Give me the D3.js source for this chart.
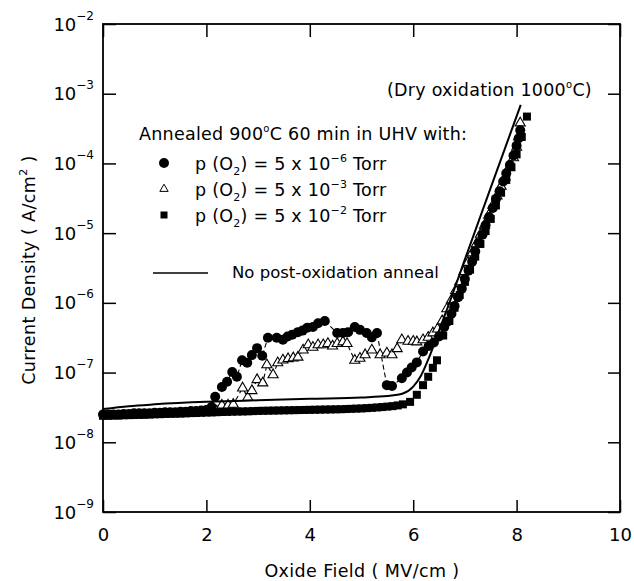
<!DOCTYPE html>
<html><head><meta charset="utf-8">
<script src="https://cdn.jsdelivr.net/npm/d3@7"></script>
<style>
body{margin:0;background:#fff}
svg{display:block}
text{font-family:"DejaVu Sans",Verdana,sans-serif;fill:#000}
</style>
</head><body>
<svg id="chart" width="634" height="581"></svg>
<script>
// ---------- data ----------
const xTicks = [0, 2, 4, 6, 8, 10];
const yTickExps = [-9, -8, -7, -6, -5, -4, -3, -2];

// p(O2) = 5e-6 Torr (filled circles)
const circE = [0.0,0.1,0.2,0.3,0.4,0.5,0.6,0.7,0.8,0.9,1.0,1.1,1.2,1.3,1.4,1.5,1.6,1.7,1.8,1.9,2.0,
  2.1,2.17,2.3,2.4,2.5,2.59,2.69,2.79,2.88,2.98,3.08,3.19,3.36,3.48,3.57,3.66,3.77,3.86,3.95,4.06,4.16,4.29,
  4.53,4.64,4.74,4.87,4.97,5.1,5.2,5.3,5.49,5.59,5.78,5.88,5.97,6.07,6.19,6.3,6.4,6.5,6.6,6.67,6.74,6.8,6.87,6.94,
  7.0,7.07,7.14,7.2,7.27,7.34,7.4,7.47,7.54,7.6,7.67,7.74,7.8,7.87,7.94,8.0,8.04,8.07];
const circJ = [2.5e-8,2.5e-8,2.5e-8,2.5e-8,2.55e-8,2.55e-8,2.6e-8,2.6e-8,2.6e-8,2.6e-8,2.65e-8,2.65e-8,2.7e-8,2.7e-8,2.7e-8,2.75e-8,2.75e-8,2.8e-8,2.8e-8,2.85e-8,2.9e-8,
  3.2e-8,4.5e-8,6.2e-8,7.4e-8,1.02e-7,8.7e-8,1.5e-7,1.38e-7,1.78e-7,2.24e-7,1.74e-7,3.16e-7,3.16e-7,2.95e-7,3.3e-7,3.5e-7,3.8e-7,4.0e-7,4.4e-7,4.5e-7,5.1e-7,5.5e-7,
  3.7e-7,3.7e-7,3.8e-7,4.5e-7,4.1e-7,3.7e-7,3.2e-7,3.7e-7,6.6e-8,6.4e-8,8.3e-8,1.0e-7,1.18e-7,1.4e-7,2.0e-7,2.4e-7,2.7e-7,3.3e-7,4.5e-7,5.4e-7,7.0e-7,9.0e-7,1.2e-6,1.6e-6,
  2.2e-6,2.9e-6,3.9e-6,5.5e-6,7.2e-6,9.5e-6,1.3e-5,1.7e-5,2.3e-5,3.1e-5,4.0e-5,5.5e-5,7.2e-5,9.5e-5,1.3e-4,1.8e-4,2.3e-4,3.0e-4];

// p(O2) = 5e-3 Torr (open triangles)
const triE = [2.2,2.3,2.42,2.52,2.7,2.8,2.88,2.98,3.09,3.17,3.29,3.38,3.48,3.58,3.68,3.77,3.87,3.97,4.06,4.16,4.26,4.35,4.44,4.53,4.64,4.72,
  4.87,4.97,5.07,5.2,5.36,5.49,5.59,5.69,5.78,5.9,6.0,6.07,6.19,6.29,6.38,6.47,6.56,6.65,6.74,6.82,6.9,6.98,
  7.06,7.14,7.22,7.3,7.38,7.46,7.54,7.62,7.7,7.78,7.86,7.94,8.0,8.04,8.07];
const triJ = [2.8e-8,3.4e-8,3.4e-8,3.5e-8,6.0e-8,4.4e-8,5.5e-8,7.9e-8,7.1e-8,1.29e-7,9.3e-8,1.38e-7,1.51e-7,1.58e-7,1.62e-7,1.66e-7,2.1e-7,2.5e-7,2.3e-7,2.5e-7,2.5e-7,2.6e-7,2.4e-7,2.6e-7,2.75e-7,2.6e-7,
  1.5e-7,1.6e-7,1.8e-7,2.1e-7,1.8e-7,1.9e-7,1.8e-7,2.2e-7,2.95e-7,2.8e-7,2.8e-7,2.75e-7,2.95e-7,3.2e-7,3.7e-7,4.2e-7,5.5e-7,8.2e-7,1.1e-6,1.5e-6,2.0e-6,2.8e-6,
  3.8e-6,5.2e-6,7.0e-6,9.6e-6,1.3e-5,1.8e-5,2.5e-5,3.4e-5,4.7e-5,6.4e-5,8.8e-5,1.2e-4,1.7e-4,2.4e-4,3.8e-4];

// p(O2) = 5e-2 Torr (filled squares)
const sqE = [0.0,0.1,0.2,0.3,0.4,0.5,0.6,0.7,0.8,0.9,1.0,1.1,1.2,1.3,1.4,1.5,1.6,1.7,1.8,1.9,2.0,2.1,2.2,2.3,2.4,2.5,2.6,2.7,2.8,2.9,
  3.0,3.1,3.2,3.3,3.4,3.5,3.6,3.7,3.8,3.9,4.0,4.1,4.2,4.3,4.4,4.5,4.6,4.7,4.8,4.9,5.0,5.1,5.2,5.3,5.4,5.5,5.6,5.7,5.8,
  5.94,6.07,6.19,6.29,6.38,6.46,6.58,6.7,6.8,6.9,7.0,7.1,7.2,7.3,7.4,7.5,7.6,7.7,7.8,7.9,8.0,8.1,8.2];
const sqJ = [2.40e-8,2.40e-8,2.42e-8,2.42e-8,2.44e-8,2.45e-8,2.46e-8,2.47e-8,2.48e-8,2.50e-8,2.52e-8,2.53e-8,2.55e-8,2.56e-8,2.57e-8,2.58e-8,2.60e-8,2.62e-8,2.63e-8,2.65e-8,2.67e-8,2.68e-8,2.70e-8,2.72e-8,2.73e-8,2.75e-8,2.76e-8,2.77e-8,2.78e-8,2.80e-8,
  2.82e-8,2.83e-8,2.84e-8,2.85e-8,2.86e-8,2.87e-8,2.88e-8,2.89e-8,2.90e-8,2.91e-8,2.92e-8,2.93e-8,2.94e-8,2.95e-8,2.96e-8,2.97e-8,2.98e-8,3.00e-8,3.02e-8,3.04e-8,3.06e-8,3.09e-8,3.12e-8,3.16e-8,3.20e-8,3.25e-8,3.30e-8,3.38e-8,3.50e-8,
  3.8e-8,4.8e-8,6.6e-8,8.7e-8,1.17e-7,1.5e-7,3.4e-7,5.5e-7,8.5e-7,1.3e-6,2.0e-6,3.0e-6,4.6e-6,7.0e-6,1.07e-5,1.6e-5,2.5e-5,3.8e-5,5.8e-5,8.8e-5,1.35e-4,2.4e-4,4.7e-4];

// No post-oxidation anneal (solid line)
const lineE = [0.0,0.5,1.0,2.0,3.0,4.0,5.0,5.5,5.8,6.0,6.15,6.3,6.5,6.7,7.0,7.5,8.08];
const lineJ = [3.0e-8,3.3e-8,3.5e-8,3.8e-8,4.0e-8,4.2e-8,4.4e-8,4.6e-8,5.0e-8,6.3e-8,9.0e-8,1.6e-7,4.0e-7,1.0e-6,4.2e-6,4.5e-5,6.9e-4];

// ---------- chart ----------
const svg = d3.select("#chart");
const x = d3.scaleLinear().domain([0, 10]).range([103, 620]);
const y = d3.scaleLog().domain([1e-9, 1e-2]).range([512, 24]);

const zip = (a, b) => a.map((v, i) => [v, b[i]]);
const circ = zip(circE, circJ), tri = zip(triE, triJ), sq = zip(sqE, sqJ), ln = zip(lineE, lineJ);

// axes (ticks inward)
const gx = svg.append("g").attr("transform", "translate(0,512)")
  .call(d3.axisBottom(x).tickValues(xTicks).tickSizeInner(-12).tickSizeOuter(0).tickPadding(16).tickFormat(d3.format("d")));
const gxt = svg.append("g").attr("transform", "translate(0,24)")
  .call(d3.axisTop(x).tickValues(xTicks).tickSizeInner(-13).tickSizeOuter(0).tickFormat(""));
const yVals = yTickExps.map(e => Math.pow(10, e));
const gy = svg.append("g").attr("transform", "translate(103,0)")
  .call(d3.axisLeft(y).tickValues(yVals).tickSizeInner(-13).tickSizeOuter(0).tickFormat(""));
const gyr = svg.append("g").attr("transform", "translate(620,0)")
  .call(d3.axisRight(y).tickValues(yVals).tickSizeInner(-12).tickSizeOuter(0).tickFormat(""));
[gx, gxt, gy, gyr].forEach(g => {
  g.select(".domain").remove();
  g.selectAll(".tick line").attr("stroke", "#000").attr("stroke-width", 1.5);
});
gx.selectAll(".tick text").attr("font-size", 18).attr("font-family", "DejaVu Sans, Verdana, sans-serif").attr("fill", "#000");

// frame
svg.append("rect").attr("x", x(0)).attr("y", y(1e-2)).attr("width", x(10) - x(0)).attr("height", y(1e-9) - y(1e-2))
  .attr("fill", "none").attr("stroke", "#000").attr("stroke-width", 1.8);

// y tick labels 10^n
yTickExps.forEach(e => {
  const t = svg.append("text").attr("x", 94).attr("y", y(Math.pow(10, e)) + 6.5).attr("text-anchor", "end").attr("font-size", 18);
  t.append("tspan").text("10");
  t.append("tspan").attr("dy", -11).attr("font-size", 12).text("\u2212" + Math.abs(e));
});

// axis titles
svg.append("text").attr("x", 362).attr("y", 577).attr("text-anchor", "middle").attr("font-size", 17.5).attr("letter-spacing", 0.4)
  .text("Oxide Field  ( MV/cm )");
const yt = svg.append("text").attr("transform", "translate(35,270) rotate(-90)").attr("text-anchor", "middle").attr("font-size", 17.5).attr("letter-spacing", 0.4);
yt.append("tspan").text("Current Density  ( A/cm");
yt.append("tspan").attr("dy", -8).attr("font-size", 11).text("2");
yt.append("tspan").attr("dy", 8).text(" )");

// connector lines
const lineGen = d3.line().x(d => x(d[0])).y(d => y(d[1]));
svg.append("path").datum(circ).attr("d", lineGen).attr("fill", "none").attr("stroke", "#000").attr("stroke-width", 1.1).attr("stroke-dasharray", "5,3");
svg.append("path").datum(tri).attr("d", lineGen).attr("fill", "none").attr("stroke", "#000").attr("stroke-width", 1.1).attr("stroke-dasharray", "5,3");

// markers
const triSym = d3.symbol(d3.symbolTriangle, 44);
svg.append("g").selectAll("path").data(tri).join("path")
  .attr("d", triSym).attr("transform", d => `translate(${x(d[0])},${y(d[1])})`)
  .attr("fill", "#fff").attr("stroke", "#000").attr("stroke-width", 1.1);
svg.append("g").selectAll("circle").data(circ).join("circle")
  .attr("cx", d => x(d[0])).attr("cy", d => y(d[1])).attr("r", 5).attr("fill", "#000");
svg.append("g").selectAll("rect").data(sq).join("rect")
  .attr("x", d => x(d[0]) - 4).attr("y", d => y(d[1]) - 4).attr("width", 8).attr("height", 8).attr("fill", "#000");

// solid line
svg.append("path").datum(ln).attr("d", d3.line().curve(d3.curveMonotoneX).x(d => x(d[0])).y(d => y(d[1])))
  .attr("fill", "none").attr("stroke", "#000").attr("stroke-width", 2);

// annotations / legend
const FS = 17.5, LS = 0.25;
const dry = svg.append("text").attr("x", 387).attr("y", 96).attr("font-size", FS).attr("letter-spacing", LS);
dry.append("tspan").text("(Dry oxidation 1000");
dry.append("tspan").attr("dy", -8).attr("font-size", 10).text("o");
dry.append("tspan").attr("dy", 8).text("C)");

const ann = svg.append("text").attr("x", 139).attr("y", 140).attr("font-size", FS).attr("letter-spacing", LS);
ann.append("tspan").text("Annealed 900");
ann.append("tspan").attr("dy", -8).attr("font-size", 10).text("o");
ann.append("tspan").attr("dy", 8).text("C 60 min in UHV with:");

const legendRows = [
  {exp: "\u22126", ty: 170, sym: "circle"},
  {exp: "\u22123", ty: 196, sym: "triangle"},
  {exp: "\u22122", ty: 222, sym: "square"}
];
legendRows.forEach(r => {
  const cy = r.ty - 7;
  if (r.sym === "circle") svg.append("circle").attr("cx", 164).attr("cy", cy).attr("r", 5).attr("fill", "#000");
  if (r.sym === "triangle") svg.append("path").attr("d", d3.symbol(d3.symbolTriangle, 30)()).attr("transform", `translate(164,${cy})`)
    .attr("fill", "#fff").attr("stroke", "#000").attr("stroke-width", 1);
  if (r.sym === "square") svg.append("rect").attr("x", 160.5).attr("y", cy - 3.5).attr("width", 7).attr("height", 7).attr("fill", "#000");
  const t = svg.append("text").attr("x", 195).attr("y", r.ty).attr("font-size", FS).attr("letter-spacing", LS);
  t.append("tspan").text("p (O");
  t.append("tspan").attr("dy", 5).attr("font-size", 11).text("2");
  t.append("tspan").attr("dy", -5).text(") = 5 x 10");
  t.append("tspan").attr("dy", -8).attr("font-size", 11).text(r.exp);
  t.append("tspan").attr("dy", 8).text(" Torr");
});
svg.append("line").attr("x1", 153).attr("x2", 208).attr("y1", 273).attr("y2", 273).attr("stroke", "#000").attr("stroke-width", 1.5);
svg.append("text").attr("x", 232).attr("y", 278).attr("font-size", 16.5).text("No post-oxidation anneal");
</script>
</body></html>
